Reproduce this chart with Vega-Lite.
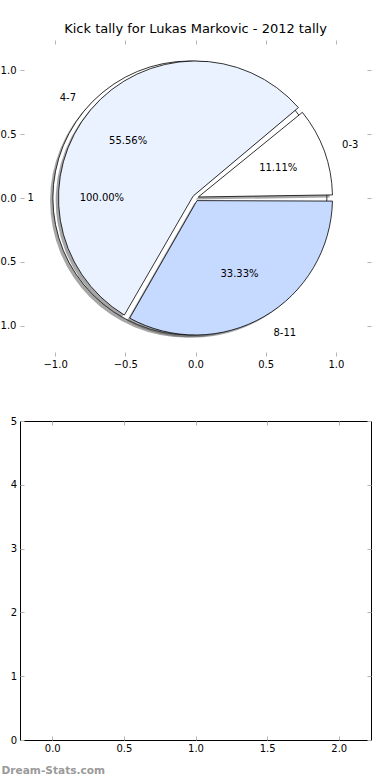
{
  "$schema": "https://vega.github.io/schema/vega-lite/v6.json",
  "padding": {"left": -9, "top": 22, "right": 0, "bottom": 0},
  "bounds": "flush",
  "spacing": 65,
  "config": {
    "font": "DejaVu Sans",
    "axis": {
      "labelFont": "DejaVu Sans",
      "labelFontSize": 10,
      "labelColor": "#000000",
      "tickColor": "#b5b5b5",
      "tickSize": -4,
      "tickWidth": 1,
      "domain": false,
      "grid": false
    }
  },
  "datasets": {
    "slices": [
      {"group": "0-3", "count": 1, "pct": "11.11%"},
      {"group": "4-7", "count": 5, "pct": "55.56%"},
      {"group": "8-11", "count": 3, "pct": "33.33%"}
    ],
    "whole": [
      {"group": "1", "count": 1, "pct": "100.00%"}
    ]
  },
  "vconcat": [
    {
      "width": 351,
      "height": 316,
      "title": {"text": "Kick tally for Lukas Markovic - 2012 tally", "fontSize": 13, "fontWeight": "normal", "color": "#000000", "offset": 4, "font": "DejaVu Sans"},
      "view": {"stroke": null},
      "resolve": {"scale": {"theta": "independent"}, "axis": {"x": "independent", "y": "independent"}},
      "layer": [
        {
          "data": {"name": "whole"},
          "mark": {"type": "arc", "radius": 137, "fill": "#4d4d4d", "opacity": 0.5},
          "encoding": {
            "x": {"datum": -0.06, "type": "quantitative", "scale": {"domain": [-1.25, 1.25], "nice": false, "zero": false},
                  "axis": {"orient": "bottom", "values": [-1, -0.5, 0, 0.5, 1], "format": ".1f", "title": null, "labelPadding": 7}},
            "y": {"datum": -0.02, "type": "quantitative", "scale": {"domain": [-1.235, 1.235], "nice": false, "zero": false},
                  "axis": {"orient": "left", "values": [-1, -0.5, 0, 0.5, 1], "format": ".1f", "title": null, "labelPadding": 8}},
            "theta": {"field": "count", "type": "quantitative", "stack": true, "scale": {"range": [1.5708, 7.854]}}
          }
        },
        {
          "data": {"name": "whole"},
          "mark": {"type": "arc", "radius": 137, "fill": "#ffffff", "stroke": "#000000", "strokeWidth": 0.8},
          "encoding": {
            "x": {"datum": -0.04, "type": "quantitative",
                  "axis": {"orient": "top", "values": [-1, -0.5, 0, 0.5, 1], "labels": false, "title": null}},
            "y": {"datum": 0, "type": "quantitative",
                  "axis": {"orient": "right", "values": [-1, -0.5, 0, 0.5, 1], "labels": false, "title": null}},
            "theta": {"field": "count", "type": "quantitative", "stack": true, "scale": {"range": [1.5708, 7.854]}}
          }
        },
        {
          "data": {"name": "slices"},
          "mark": {"type": "arc", "radius": 137, "innerRadius": 3, "padAngle": 0.045, "fill": "#4d4d4d", "opacity": 0.5},
          "encoding": {
            "x": {"datum": -0.02, "type": "quantitative", "axis": null},
            "y": {"datum": -0.02, "type": "quantitative", "axis": null},
            "theta": {"field": "count", "type": "quantitative", "stack": true, "scale": {"range": [1.5708, 7.854]}},
            "order": {"field": "group", "sort": "descending"}
          }
        },
        {
          "data": {"name": "slices"},
          "mark": {"type": "arc", "radius": 137, "innerRadius": 3, "padAngle": 0.045, "stroke": "#000000", "strokeWidth": 0.8},
          "encoding": {
            "x": {"datum": 0, "type": "quantitative", "axis": null},
            "y": {"datum": 0, "type": "quantitative", "axis": null},
            "theta": {"field": "count", "type": "quantitative", "stack": true, "scale": {"range": [1.5708, 7.854]}},
            "order": {"field": "group", "sort": "descending"},
            "color": {"field": "group", "type": "nominal", "scale": {"domain": ["0-3", "4-7", "8-11"], "range": ["#ffffff", "#ebf2ff", "#c6d9fe"]}, "legend": null}
          }
        },
        {
          "data": {"name": "slices"},
          "mark": {"type": "text", "radius": 88, "fontSize": 10, "color": "#000000", "font": "DejaVu Sans"},
          "encoding": {
            "x": {"datum": 0, "type": "quantitative", "axis": null},
            "y": {"datum": 0, "type": "quantitative", "axis": null},
            "theta": {"field": "count", "type": "quantitative", "stack": true, "scale": {"range": [1.5708, 7.854]}},
            "order": {"field": "group", "sort": "descending"},
            "text": {"field": "pct"}
          }
        },
        {
          "data": {"name": "slices"},
          "mark": {"type": "text", "radius": 156, "fontSize": 10, "color": "#000000", "font": "DejaVu Sans",
                   "align": {"expr": "datum.group === '4-7' ? 'right' : 'left'"}},
          "encoding": {
            "x": {"datum": 0, "type": "quantitative", "axis": null},
            "y": {"datum": 0, "type": "quantitative", "axis": null},
            "theta": {"field": "count", "type": "quantitative", "stack": true, "scale": {"range": [1.5708, 7.854]}},
            "order": {"field": "group", "sort": "descending"},
            "text": {"field": "group"}
          }
        },
        {
          "data": {"name": "whole"},
          "mark": {"type": "text", "radius": 88, "fontSize": 10, "color": "#000000", "font": "DejaVu Sans"},
          "encoding": {
            "x": {"datum": -0.04, "type": "quantitative", "axis": null},
            "y": {"datum": 0, "type": "quantitative", "axis": null},
            "theta": {"field": "count", "type": "quantitative", "stack": true, "scale": {"range": [1.5708, 7.854]}},
            "text": {"field": "pct"}
          }
        },
        {
          "data": {"name": "whole"},
          "mark": {"type": "text", "radius": 156, "fontSize": 10, "color": "#000000", "font": "DejaVu Sans", "align": "right"},
          "encoding": {
            "x": {"datum": -0.04, "type": "quantitative", "axis": null},
            "y": {"datum": 0, "type": "quantitative", "axis": null},
            "theta": {"field": "count", "type": "quantitative", "stack": true, "scale": {"range": [1.5708, 7.854]}},
            "text": {"field": "group"}
          }
        }
      ]
    },
    {
      "width": 351,
      "height": 319,
      "view": {"stroke": "#000000", "strokeWidth": 1},
      "data": {"values": []},
      "resolve": {"axis": {"x": "independent", "y": "independent"}},
      "layer": [
        {
          "mark": "point",
          "encoding": {
            "x": {"field": "x", "type": "quantitative", "scale": {"domain": [-0.225, 2.225], "nice": false, "zero": false},
                  "axis": {"orient": "bottom", "values": [0, 0.5, 1, 1.5, 2], "format": ".1f", "labelPadding": 7.5,
                           "title": "Dream-Stats.com", "titleX": -19, "titleY": 30, "titleAlign": "left", "titleBaseline": "middle", "titleAnchor": null,
                           "titleFont": "DejaVu Sans", "titleFontSize": 10.6, "titleFontWeight": "bold", "titleColor": "#9a9a9a"}},
            "y": {"field": "y", "type": "quantitative", "scale": {"domain": [0, 5], "nice": false, "zero": false},
                  "axis": {"orient": "left", "values": [0, 1, 2, 3, 4, 5], "format": "d", "labelPadding": 7.5, "title": null}}
          }
        },
        {
          "mark": "point",
          "encoding": {
            "x": {"field": "x", "type": "quantitative",
                  "axis": {"orient": "top", "values": [0, 0.5, 1, 1.5, 2], "labels": false, "title": null}},
            "y": {"field": "y", "type": "quantitative",
                  "axis": {"orient": "right", "values": [0, 1, 2, 3, 4, 5], "labels": false, "title": null}}
          }
        }
      ]
    }
  ]
}
